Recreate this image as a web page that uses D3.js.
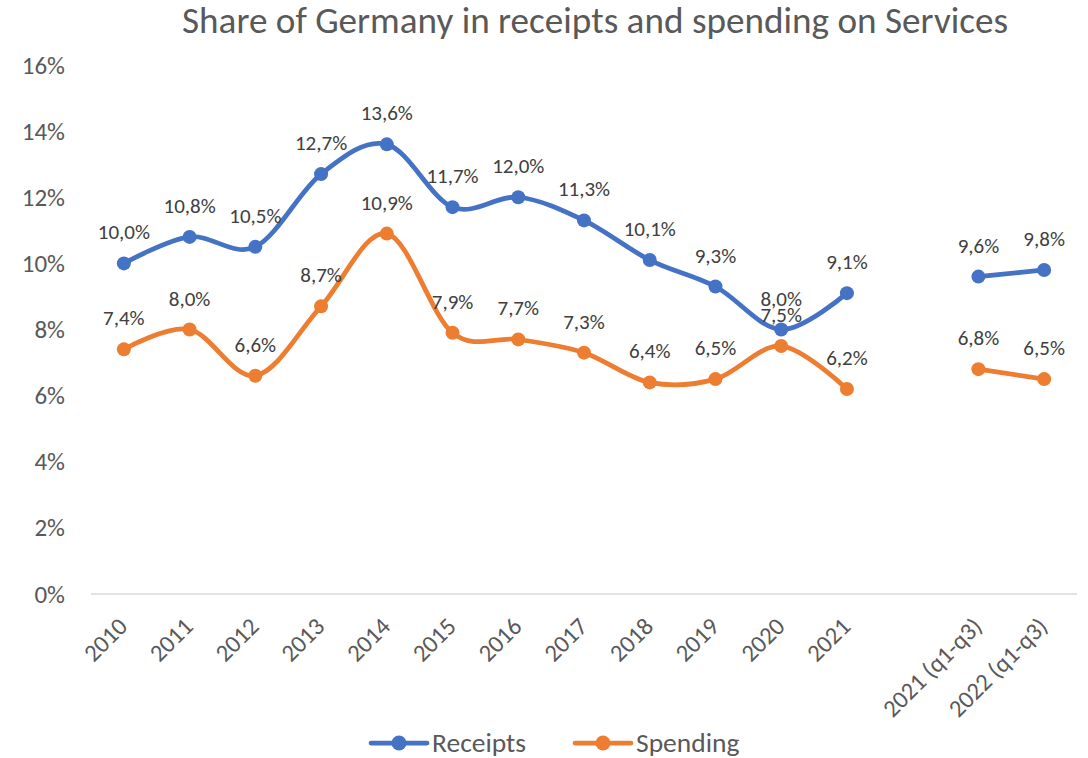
<!DOCTYPE html>
<html>
<head>
<meta charset="utf-8">
<script src="https://cdn.jsdelivr.net/npm/d3@7"></script>
<style>
  body { margin: 0; background: #fff; }
  svg { display: block; font-family: Carlito, Calibri, "Open Sans", sans-serif; }
</style>
</head>
<body>
<div id="chart"></div>
<script>
'use strict';

// カテゴリ（空欄のカテゴリで2021と四半期データを分ける）
const categories = ['2010', '2011', '2012', '2013', '2014', '2015', '2016', '2017', '2018', '2019', '2020', '2021', '', '2021 (q1-q3)', '2022 (q1-q3)'];
const receipts = [10.0, 10.8, 10.5, 12.7, 13.6, 11.7, 12.0, 11.3, 10.1, 9.3, 8.0, 9.1, null, 9.6, 9.8];
const spending = [7.4, 8.0, 6.6, 8.7, 10.9, 7.9, 7.7, 7.3, 6.4, 6.5, 7.5, 6.2, null, 6.8, 6.5];
const yTicks = [0, 2, 4, 6, 8, 10, 12, 14, 16];
const seriesNames = ['Receipts', 'Spending'];

const width = 1088;
const height = 758;
const margin = { top: 65, right: 11, bottom: 164, left: 91 };
const colors = ['#4472C4', '#ED7D31'];
const fontFamily = 'Carlito, Calibri, "Open Sans", sans-serif';

const svg = d3.select('#chart')
    .append('svg')
    .attr('width', width)
    .attr('height', height);

const x = d3.scaleBand()
    .domain(categories)
    .range([margin.left, width - margin.right])
    .padding(0);
const y = d3.scaleLinear()
    .domain([0, 16])
    .range([height - margin.bottom, margin.top]);

// タイトル
svg.append('text')
    .attr('x', 182)
    .attr('y', 33)
    .attr('font-size', '36px')
    .attr('font-weight', 300)
    .attr('fill', '#595959')
    .attr('textLength', 826)
    .attr('lengthAdjust', 'spacingAndGlyphs')
    .text('Share of Germany in receipts and spending on Services');

// Y軸
const yAxis = svg.append('g')
    .attr('transform', `translate(${margin.left},0)`)
    .call(d3.axisLeft(y).tickValues(yTicks).tickSize(0).tickPadding(26).tickFormat(d => d + '%'));
yAxis.select('.domain').remove();
yAxis.selectAll('text')
    .attr('font-size', '25px')
    .attr('fill', '#595959')
    .attr('font-family', fontFamily);

// 0%の線
svg.append('line')
    .attr('x1', margin.left)
    .attr('x2', width - margin.right)
    .attr('y1', y(0))
    .attr('y2', y(0))
    .attr('stroke', '#d9d9d9')
    .attr('stroke-width', 1.5);

// X軸（45度回転）
const xAxis = svg.append('g')
    .attr('transform', `translate(0,${y(0)})`)
    .call(d3.axisBottom(x).tickSize(0).tickPadding(0));
xAxis.select('.domain').remove();
xAxis.selectAll('text')
    .attr('font-size', '24.5px')
    .attr('fill', '#595959')
    .attr('font-family', fontFamily)
    .attr('text-anchor', 'end')
    .attr('dy', null)
    .attr('transform', 'translate(5,34) rotate(-45)');

// 系列を描画（Excel風のスムージング）
const line = d3.line()
    .defined(d => d.value != null)
    .x(d => x(d.cat) + x.bandwidth() / 2)
    .y(d => y(d.value))
    .curve(d3.curveCatmullRom.alpha(0));

const fmt = v => v.toFixed(1).replace('.', ',') + '%';

[receipts, spending].forEach((values, si) => {
    const data = values.map((v, i) => ({ cat: categories[i], value: v }));
    const g = svg.append('g');
    g.append('path')
        .datum(data)
        .attr('d', line)
        .attr('fill', 'none')
        .attr('stroke', colors[si])
        .attr('stroke-width', 4.75)
        .attr('stroke-linecap', 'round');
    const pts = data.filter(d => d.value != null);
    g.selectAll('circle')
        .data(pts)
        .enter()
        .append('circle')
        .attr('cx', d => x(d.cat) + x.bandwidth() / 2)
        .attr('cy', d => y(d.value))
        .attr('r', 7)
        .attr('fill', colors[si]);
    g.selectAll('.label')
        .data(pts)
        .enter()
        .append('text')
        .attr('class', 'label')
        .attr('x', d => x(d.cat) + x.bandwidth() / 2)
        .attr('y', d => y(d.value) - 24)
        .attr('text-anchor', 'middle')
        .attr('font-size', '21px')
        .attr('fill', '#404040')
        .text(d => fmt(d.value));
});

// 凡例
const legendX = [371, 575];
seriesNames.forEach((name, i) => {
    const lg = svg.append('g').attr('transform', `translate(${legendX[i]},743)`);
    lg.append('line')
        .attr('x1', 0).attr('x2', 56)
        .attr('stroke', colors[i])
        .attr('stroke-width', 4.75)
        .attr('stroke-linecap', 'round');
    lg.append('circle')
        .attr('cx', 28).attr('r', 7.5)
        .attr('fill', colors[i]);
    lg.append('text')
        .attr('x', 61)
        .attr('y', 9)
        .attr('font-size', '27.5px')
        .attr('fill', '#595959')
        .text(name);
});
</script>
</body>
</html>
